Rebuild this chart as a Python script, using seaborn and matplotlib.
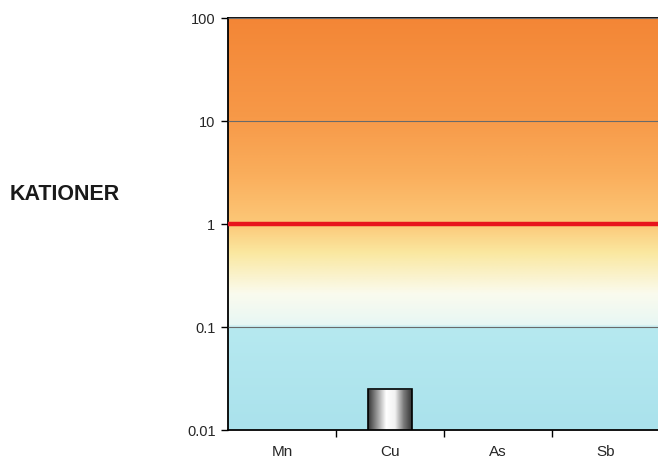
import numpy as np
import pandas as pd
import matplotlib
matplotlib.use("Agg")
import matplotlib.pyplot as plt
import seaborn as sns
from matplotlib.colors import LinearSegmentedColormap
from matplotlib.ticker import FixedLocator, NullFormatter

# data
elements = ["Mn", "Cu", "As", "Sb"]
ratios = [np.nan, 0.025, np.nan, np.nan]
y_ticks = [0.01, 0.1, 1, 10, 100]
y_labels = ["0.01", "0.1", "1", "10", "100"]
limit = 1

df = pd.DataFrame({"element": elements, "ratio": ratios})

sns.set_style("white")
plt.rcParams["font.family"] = ["Liberation Sans", "DejaVu Sans"]

fig = plt.figure(figsize=(6.58, 4.59), dpi=100)
ax = fig.add_axes([228 / 658, 1 - 430 / 459, 432 / 658, 412 / 459])

# background gradient, blue at bottom to orange at top
bg = LinearSegmentedColormap.from_list("bg", [
    (0.00, (170 / 255, 226 / 255, 236 / 255)),
    (0.248, (182 / 255, 233 / 255, 240 / 255)),
    (0.255, (232 / 255, 247 / 255, 244 / 255)),
    (0.33, (250 / 255, 251 / 255, 238 / 255)),
    (0.43, (250 / 255, 232 / 255, 160 / 255)),
    (0.50, (252 / 255, 200 / 255, 120 / 255)),
    (0.62, (250 / 255, 174 / 255, 92 / 255)),
    (0.76, (247 / 255, 153 / 255, 72 / 255)),
    (1.00, (243 / 255, 134 / 255, 54 / 255)),
])
grad = np.linspace(0, 1, 512).reshape(-1, 1)
ax.imshow(grad, cmap=bg, aspect="auto", origin="lower",
          extent=[0, 1, 0, 1], transform=ax.transAxes, zorder=0)

ax.set_yscale("log")
sns.barplot(data=df, x="element", y="ratio", width=0.41, color="white",
            edgecolor="black", linewidth=1.2, ax=ax, zorder=3)

# cylinder shading on the bar
shade = LinearSegmentedColormap.from_list("cyl", ["#3a3a3a", "#9a9a9a", "#ffffff", "#f2f2f2", "#7a7a7a", "#2e2e2e"])
for p in ax.patches:
    h = p.get_height()
    if not np.isfinite(h) or h <= 0:
        continue
    x0 = p.get_x()
    w = p.get_width()
    img = ax.imshow(np.linspace(0, 1, 256).reshape(1, -1), cmap=shade, aspect="auto",
                    extent=[x0, x0 + w, 0.01, h], zorder=2.5)
    img.set_clip_path(p)
    p.set_facecolor("none")
    p.set_zorder(4)

ax.axhline(limit, color="#e8141c", lw=3.2, zorder=5)

ax.set_xlim(-0.5, 3.5)
ax.set_ylim(0.01, 100)
ax.set_yticks(y_ticks)
ax.set_yticklabels(y_labels)
ax.yaxis.set_minor_locator(FixedLocator([]))
ax.yaxis.grid(True, which="major", color="#6a6a6a", lw=0.8)
ax.set_axisbelow(False)
for gl in ax.get_ygridlines():
    gl.set_zorder(1)

ax.xaxis.set_minor_locator(FixedLocator([0.5, 1.5, 2.5]))
ax.xaxis.set_minor_formatter(NullFormatter())
ax.tick_params(axis="x", which="major", length=0, pad=11, labelsize=11)
ax.tick_params(axis="x", which="minor", length=5, width=1, color="black", bottom=True, direction="out")
ax.tick_params(axis="y", which="major", length=5, width=1, color="black", left=True, direction="out",
               labelsize=10.5, pad=4)

ax.set_xlabel("")
ax.set_ylabel("")
for side in ["left", "bottom", "top"]:
    ax.spines[side].set_visible(True)
    ax.spines[side].set_color("black")
    ax.spines[side].set_linewidth(1.3)
ax.spines["right"].set_visible(False)

fig.text(10 / 658, 1 - 195 / 459, "KATIONER", fontsize=15.5, fontweight="bold",
         va="center", ha="left", color="#1a1a1a")

fig.savefig("out.png", dpi=100)
